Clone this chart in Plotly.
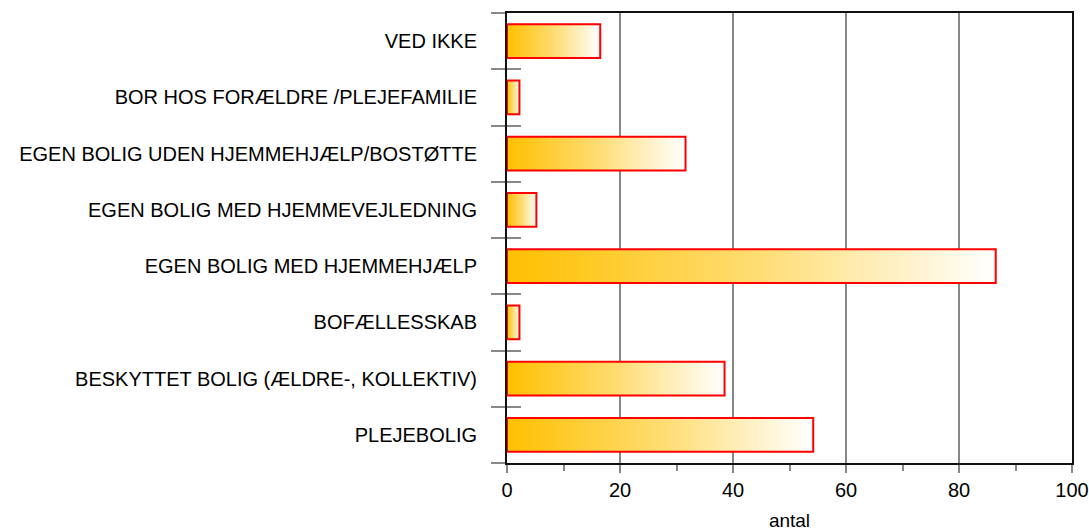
import plotly.graph_objects as go

categories = [
    "PLEJEBOLIG",
    "BESKYTTET BOLIG (ÆLDRE-, KOLLEKTIV)",
    "BOFÆLLESSKAB",
    "EGEN BOLIG MED HJEMMEHJÆLP",
    "EGEN BOLIG MED HJEMMEVEJLEDNING",
    "EGEN BOLIG UDEN HJEMMEHJÆLP/BOSTØTTE",
    "BOR HOS FORÆLDRE /PLEJEFAMILIE",
    "VED IKKE",
]
values = [54.2, 38.5, 2.2, 86.5, 5.2, 31.6, 2.2, 16.5]
x_ticks = [0, 20, 40, 60, 80, 100]
x_title = "antal"

FONT = "Liberation Sans, Arial, sans-serif"
half = 0.3

fig = go.Figure()
for i, v in enumerate(values):
    fig.add_trace(go.Scatter(
        x=[0, v, v, 0, 0],
        y=[i - half, i - half, i + half, i + half, i - half],
        mode="lines",
        fill="toself",
        fillgradient=dict(type="horizontal",
                          colorscale=[[0, "#FFC000"], [0.5, "#FFDC70"], [1, "#FFFFFF"]]),
        line=dict(color="#FF0000", width=2),
        hoverinfo="skip",
        showlegend=False,
    ))

# invisible helper trace for the overlay axis (crossing tick marks)
fig.add_trace(go.Scatter(x=[0], y=[0], yaxis="y2", mode="markers",
                         marker=dict(opacity=0), showlegend=False, hoverinfo="skip"))

n = len(categories)
fig.update_layout(
    width=1089, height=531,
    margin=dict(l=507, r=17, t=13, b=68),
    paper_bgcolor="white", plot_bgcolor="white",
    font=dict(family=FONT, color="#000000"),
    xaxis=dict(
        range=[0, 100], tickvals=x_ticks, showgrid=True,
        gridcolor="#888888", gridwidth=1.5,
        showline=True, linecolor="#111111", linewidth=2, mirror=True,
        ticks="outside", ticklen=8, tickcolor="#888888", tickwidth=2,
        minor=dict(ticks="outside", dtick=10, tick0=0, ticklen=6,
                   tickcolor="#888888", tickwidth=1.5, showgrid=False),
        tickfont=dict(size=20, family=FONT),
        title=dict(text=x_title, font=dict(size=19, family=FONT), standoff=15),
        zeroline=False, fixedrange=True, automargin=False,
    ),
    yaxis=dict(
        range=[-0.5, n - 0.5],
        tickmode="array", tickvals=list(range(n)), ticktext=categories,
        ticks="", showgrid=False, zeroline=False,
        showline=True, linecolor="#111111", linewidth=2, mirror=True,
        minor=dict(ticks="outside", tickmode="array",
                   tickvals=[i - 0.5 for i in range(n + 1)],
                   ticklen=14, tickcolor="#888888", tickwidth=2, showgrid=False),
        tickfont=dict(size=20, family=FONT),
        ticklabelstandoff=24,
        fixedrange=True, automargin=False,
    ),
    yaxis2=dict(
        range=[-0.5, n - 0.5], overlaying="y", side="left",
        tickmode="array", tickvals=[i - 0.5 for i in range(n + 1)],
        ticks="inside", ticklen=14, tickcolor="#888888", tickwidth=2,
        showticklabels=False, showgrid=False, zeroline=False, showline=False,
        fixedrange=True, automargin=False,
    ),
)

# remove the browser's default page margin so the figure fills the window exactly
fig.write_html(
    "out.html",
    config={"displayModeBar": False},
    post_script="document.body.style.margin='0';document.body.style.overflow='hidden';",
)
